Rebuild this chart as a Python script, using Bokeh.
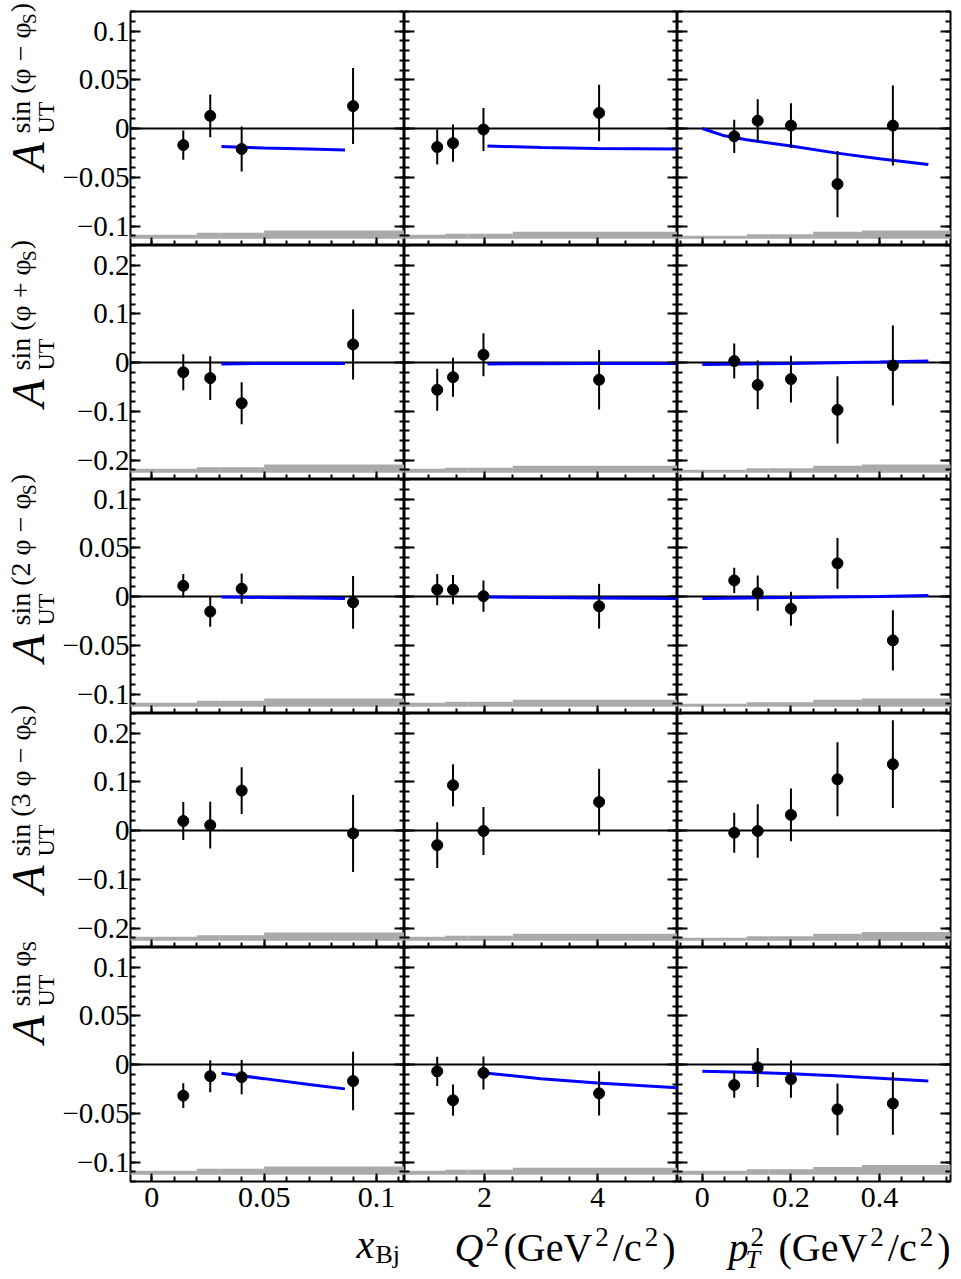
from math import pi
from bokeh.plotting import figure
from bokeh.models import ColumnDataSource, FixedTicker, LinearAxis, Range1d, Span
from bokeh.layouts import gridplot, row, column
from bokeh.core.properties import value
from bokeh.embed import file_html
from bokeh.resources import INLINE

FONT = "Liberation Serif"

# ---------------- data ----------------
# mean kinematic values of the bins
x_bj = [0.014, 0.026, 0.040, 0.0896]
q2 = [1.16, 1.44, 1.98, 4.03]
pt2 = [0.072, 0.125, 0.200, 0.305, 0.430]

# bin edges used for the systematic bands
xbj_edges = [-0.01, 0.02, 0.03, 0.05, 0.115]
q2_edges = [0.5, 1.3, 1.7, 2.5, 5.5]
pt2_edges = [-0.06, 0.10, 0.15, 0.25, 0.36, 0.60]

# row 1: sin(phi - phiS)
a1_xbj = [-0.017, 0.013, -0.021, 0.023]
e1_xbj = [0.015, 0.022, 0.023, 0.039]
a1_q2 = [-0.019, -0.015, -0.001, 0.016]
e1_q2 = [0.018, 0.019, 0.022, 0.029]
a1_pt2 = [-0.008, 0.008, 0.003, -0.057, 0.003]
e1_pt2 = [0.017, 0.022, 0.023, 0.034, 0.041]

# row 2: sin(phi + phiS)
a2_xbj = [-0.020, -0.032, -0.0835, 0.037]
e2_xbj = [0.037, 0.045, 0.043, 0.072]
a2_q2 = [-0.056, -0.030, 0.016, -0.0355]
e2_q2 = [0.043, 0.040, 0.044, 0.061]
a2_pt2 = [0.003, -0.046, -0.034, -0.097, -0.006]
e2_pt2 = [0.036, 0.050, 0.048, 0.069, 0.082]

# row 3: sin(2phi - phiS)
a3_xbj = [0.011, -0.0155, 0.008, -0.006]
e3_xbj = [0.012, 0.0155, 0.0155, 0.027]
a3_q2 = [0.007, 0.007, 0.0003, -0.010]
e3_q2 = [0.016, 0.015, 0.016, 0.023]
a3_pt2 = [0.0165, 0.0035, -0.0125, 0.034, -0.045]
e3_pt2 = [0.013, 0.018, 0.0175, 0.026, 0.031]

# row 4: sin(3phi - phiS)
a4_xbj = [0.0195, 0.011, 0.082, -0.006]
e4_xbj = [0.039, 0.048, 0.048, 0.079]
a4_q2 = [-0.030, 0.093, -0.001, 0.0585]
e4_q2 = [0.047, 0.043, 0.049, 0.068]
a4_pt2 = [-0.0045, -0.001, 0.032, 0.105, 0.136]
e4_pt2 = [0.041, 0.055, 0.054, 0.076, 0.090]

# row 5: sin(phiS)
a5_xbj = [-0.032, -0.012, -0.013, -0.017]
e5_xbj = [0.0127, 0.0164, 0.0176, 0.030]
a5_q2 = [-0.007, -0.0366, -0.0087, -0.0296]
e5_q2 = [0.015, 0.016, 0.017, 0.0226]
a5_pt2 = [-0.021, -0.003, -0.015, -0.046, -0.040]
e5_pt2 = [0.013, 0.020, 0.019, 0.0265, 0.032]

# model curves
cx_xbj = [0.031, 0.05, 0.07, 0.086]
cx_q2 = [2.05, 3.0, 4.0, 5.42]
cx_pt2 = [0.0, 0.05, 0.10, 0.20, 0.30, 0.40, 0.51]
c1_xbj = [-0.0185, -0.020, -0.021, -0.022]
c1_q2 = [-0.018, -0.0195, -0.0205, -0.021]
c1_pt2 = [0.0, -0.0075, -0.0115, -0.018, -0.025, -0.031, -0.037]
c2_xbj = [-0.003, -0.002, -0.002, -0.002]
c2_q2 = [-0.003, -0.0025, -0.002, -0.002]
c2_pt2 = [-0.004, -0.0035, -0.003, -0.002, -0.0005, 0.001, 0.003]
c3_xbj = [-0.0005, -0.001, -0.0015, -0.002]
c3_q2 = [-0.0005, -0.001, -0.0015, -0.002]
c3_pt2 = [-0.002, -0.0018, -0.0015, -0.001, -0.0005, 0.0, 0.001]
c5_xbj = [-0.009, -0.0145, -0.0205, -0.025]
c5_q2 = [-0.009, -0.0145, -0.019, -0.024]
c5_pt2 = [-0.007, -0.0075, -0.008, -0.0095, -0.0115, -0.014, -0.017]

# systematic uncertainty bands (baseline and heights)
band_base = [-0.113, -0.226, -0.113, -0.226, -0.113]
s1_xbj = [0.004, 0.006, 0.006, 0.0085]
s1_q2 = [0.004, 0.005, 0.005, 0.007]
s1_pt2 = [0.003, 0.0045, 0.0045, 0.007, 0.0085]
s2_xbj = [0.008, 0.011, 0.011, 0.017]
s2_q2 = [0.008, 0.010, 0.010, 0.014]
s2_pt2 = [0.006, 0.009, 0.009, 0.014, 0.017]
s3_xbj = [0.004, 0.006, 0.006, 0.0085]
s3_q2 = [0.004, 0.005, 0.005, 0.007]
s3_pt2 = [0.003, 0.0045, 0.0045, 0.007, 0.0085]
s4_xbj = [0.008, 0.011, 0.011, 0.017]
s4_q2 = [0.008, 0.010, 0.010, 0.014]
s4_pt2 = [0.006, 0.009, 0.009, 0.014, 0.018]
s5_xbj = [0.004, 0.006, 0.006, 0.0085]
s5_q2 = [0.004, 0.005, 0.005, 0.007]
s5_pt2 = [0.004, 0.0055, 0.0055, 0.008, 0.010]

# axis ticks and labels
xbj_ticks = [0, 0.05, 0.1]
xbj_tick_labels = ["0", "0.05", "0.1"]
q2_ticks = [2, 4]
q2_tick_labels = ["2", "4"]
pt2_ticks = [0, 0.2, 0.4]
pt2_tick_labels = ["0", "0.2", "0.4"]
ya_ticks = [-0.1, -0.05, 0, 0.05, 0.1]
ya_tick_labels = ["\u22120.1", "\u22120.05", "0", "0.05", "0.1"]
yb_ticks = [-0.2, -0.1, 0, 0.1, 0.2]
yb_tick_labels = ["\u22120.2", "\u22120.1", "0", "0.1", "0.2"]

ytitle_sup = ["sin (\u03c6 \u2212 \u03c6", "sin (\u03c6 + \u03c6", "sin (2 \u03c6 \u2212 \u03c6",
              "sin (3 \u03c6 \u2212 \u03c6", "sin \u03c6"]
ytitle_close = [")", ")", ")", ")", ""]

# ---------------- layout / style ----------------
O = 1                      # reference offset used for the title coordinates
W_T = 59                   # width of the y-title strip
L1 = 69                    # left border for tick labels of first column
FRAME_W = [276, 273, 273]
FRAME_H = 234
TOP = 11
BOT = 41
RIGHT = 2
GRID_H = TOP + 5 * FRAME_H + BOT
TOTAL_W = W_T + L1 + sum(FRAME_W) + RIGHT
XT_H = 52
DROP = 0.34                # observed downward drop of rendered text (in em)

cols = [
    dict(x=x_bj, rng=(-0.0095, 0.1125), ticks=xbj_ticks, labels=xbj_tick_labels,
         minor=[round(-0.01 + 0.01 * i, 4) for i in range(13)], edges=xbj_edges, cx=cx_xbj),
    dict(x=q2, rng=(0.58, 5.42), ticks=q2_ticks, labels=q2_tick_labels,
         minor=[0.5 * i for i in range(1, 11)], edges=q2_edges, cx=cx_q2),
    dict(x=pt2, rng=(-0.056, 0.56), ticks=pt2_ticks, labels=pt2_tick_labels,
         minor=[round(-0.05 + 0.05 * i, 4) for i in range(13)], edges=pt2_edges, cx=cx_pt2),
]
yA = dict(rng=(-0.12, 0.12), ticks=ya_ticks, labels=ya_tick_labels,
          minor=[round(-0.12 + 0.01 * i, 4) for i in range(25)])
yB = dict(rng=(-0.24, 0.24), ticks=yb_ticks, labels=yb_tick_labels,
          minor=[round(-0.24 + 0.02 * i, 4) for i in range(25)])
rows = [
    dict(y=yA, a=[a1_xbj, a1_q2, a1_pt2], e=[e1_xbj, e1_q2, e1_pt2], c=[c1_xbj, c1_q2, c1_pt2],
         s=[s1_xbj, s1_q2, s1_pt2]),
    dict(y=yB, a=[a2_xbj, a2_q2, a2_pt2], e=[e2_xbj, e2_q2, e2_pt2], c=[c2_xbj, c2_q2, c2_pt2],
         s=[s2_xbj, s2_q2, s2_pt2]),
    dict(y=yA, a=[a3_xbj, a3_q2, a3_pt2], e=[e3_xbj, e3_q2, e3_pt2], c=[c3_xbj, c3_q2, c3_pt2],
         s=[s3_xbj, s3_q2, s3_pt2]),
    dict(y=yB, a=[a4_xbj, a4_q2, a4_pt2], e=[e4_xbj, e4_q2, e4_pt2], c=[None, None, None],
         s=[s4_xbj, s4_q2, s4_pt2]),
    dict(y=yA, a=[a5_xbj, a5_q2, a5_pt2], e=[e5_xbj, e5_q2, e5_pt2], c=[c5_xbj, c5_q2, c5_pt2],
         s=[s5_xbj, s5_q2, s5_pt2]),
]

EM = {'s': 0.389, 'i': 0.278, 'n': 0.5, ' ': 0.25, '(': 0.333, ')': 0.333, '\u03c6': 0.55,
      '\u2212': 0.564, '+': 0.564, '2': 0.5, '3': 0.5, 'S': 0.556, 'G': 0.722, 'e': 0.444,
      'V': 0.722, '/': 0.278, 'c': 0.444}


def text_w(t, size):
    return sum(EM.get(ch, 0.5) for ch in t) * size


def style_axis(ax, show, labels, ticks, major_in, minor_in, size=30):
    ax.axis_line_color = None
    ax.major_tick_in = major_in
    ax.major_tick_out = 0
    ax.minor_tick_in = minor_in
    ax.minor_tick_out = 0
    ax.major_tick_line_width = 2
    ax.minor_tick_line_width = 2
    ax.major_tick_line_color = "black"
    ax.minor_tick_line_color = "black"
    if show:
        ax.major_label_overrides = dict(zip(ticks, labels))
        ax.major_label_text_font = FONT
        ax.major_label_text_font_size = f"{size}px"
        ax.major_label_text_color = "black"
    else:
        ax.major_label_text_color = None
        ax.major_label_text_font_size = "0px"
        ax.major_label_standoff = 0


grid = []
for r, rw in enumerate(rows):
    line = []
    for c, cl in enumerate(cols):
        left = L1 if c == 0 else 0
        right = RIGHT if c == 2 else 0
        top = TOP if r == 0 else 0
        bottom = BOT if r == 4 else 0
        p = figure(width=FRAME_W[c] + left + right, height=FRAME_H + top + bottom,
                   x_range=Range1d(*cl["rng"]), y_range=Range1d(*rw["y"]["rng"]),
                   x_axis_location=None, y_axis_location=None,
                   min_border_left=left, min_border_right=right,
                   min_border_top=top, min_border_bottom=bottom,
                   output_backend="svg", toolbar_location=None)
        p.grid.visible = False
        p.outline_line_color = "black"
        p.outline_line_width = 2
        p.background_fill_color = "white"
        p.border_fill_color = "white"

        axb = LinearAxis(ticker=FixedTicker(ticks=cl["ticks"], minor_ticks=cl["minor"]))
        style_axis(axb, r == 4, cl["labels"], cl["ticks"], 8, 5, 30)
        if r == 4:
            axb.major_label_standoff = 6
        p.add_layout(axb, "below")
        axl = LinearAxis(ticker=FixedTicker(ticks=rw["y"]["ticks"], minor_ticks=rw["y"]["minor"]))
        style_axis(axl, c == 0, rw["y"]["labels"], rw["y"]["ticks"], 10, 5, 29)
        if c == 0:
            axl.major_label_standoff = 1
        p.add_layout(axl, "left")
        axr = LinearAxis(ticker=FixedTicker(ticks=rw["y"]["ticks"], minor_ticks=rw["y"]["minor"]))
        style_axis(axr, False, [], [], 10, 5)
        p.add_layout(axr, "right")

        edges = cl["edges"]
        base = band_base[r]
        hs = rw["s"][c]
        p.quad(left=edges[:-1], right=edges[1:], bottom=[base] * len(hs),
               top=[base + h for h in hs], fill_color="#aaaaaa", line_color=None)

        p.add_layout(Span(location=0, dimension="width", line_color="black",
                          line_width=2, level="underlay"))

        if rw["c"][c] is not None:
            p.line(cl["cx"][:len(rw["c"][c])], rw["c"][c], line_color="#0000ff", line_width=3)

        ys = rw["a"][c]
        es = rw["e"][c]
        src = ColumnDataSource(dict(x=cl["x"], y=ys,
                                    lo=[y - e for y, e in zip(ys, es)],
                                    hi=[y + e for y, e in zip(ys, es)]))
        p.segment(x0="x", y0="lo", x1="x", y1="hi", source=src, line_color="black", line_width=2)
        p.scatter("x", "y", source=src, size=11, color="black")
        line.append(p)
    grid.append(line)

gp = gridplot(grid, toolbar_location=None)


def blank(w, h):
    f = figure(width=w, height=h, x_range=Range1d(0, w), y_range=Range1d(0, h),
               x_axis_location=None, y_axis_location=None, min_border=0,
               min_border_left=0, min_border_right=0, min_border_top=0, min_border_bottom=0,
               output_backend="svg", toolbar_location=None)
    f.grid.visible = False
    f.outline_line_color = None
    f.background_fill_color = "white"
    f.border_fill_color = "white"
    return f


def txt(f, x, y, s, size, italic=False, angle=0.0):
    f.text(x=[x], y=[y], text=[s], angle=angle, text_font=value(FONT),
           text_font_size=value(f"{size}px"),
           text_font_style=value("italic" if italic else "normal"),
           text_color="black", text_align=value("left"), text_baseline=value("alphabetic"))


# ---- rotated y titles (page coordinates converted into the strip) ----
yt = blank(W_T, GRID_H)
A_PAGE = [171, 408, 663, 894, 1044]       # y where the "A" starts
A_SIZE, SUP_SIZE, SUB_SIZE, S_SIZE = 46, 28, 24, 19
# wanted baselines (x) of the rotated pieces, corrected for the text drop
XA = 45 - DROP * A_SIZE
XSUP = 31 - DROP * SUP_SIZE
XSUB = 54.5 - DROP * SUB_SIZE
XS = 36 - DROP * S_SIZE


def fy(py):
    return (O + GRID_H) - py


def fx(px):
    return px - O


for r in range(5):
    a0 = A_PAGE[r]
    txt(yt, fx(XA), fy(a0), "A", A_SIZE, italic=True, angle=pi / 2)
    s0 = a0 - 37
    txt(yt, fx(XSUB), fy(s0), "UT", SUB_SIZE, angle=pi / 2)
    sup = ytitle_sup[r]
    txt(yt, fx(XSUP), fy(s0), sup, SUP_SIZE, angle=pi / 2)
    s1 = s0 - text_w(sup, SUP_SIZE)
    txt(yt, fx(XS), fy(s1), "S", S_SIZE, angle=pi / 2)
    if ytitle_close[r]:
        txt(yt, fx(XSUP), fy(s1 - text_w("S", S_SIZE) - 1), ytitle_close[r], SUP_SIZE, angle=pi / 2)

# ---- x titles ----
xt = blank(TOTAL_W, XT_H)
XT_TOP = O + GRID_H


def gx(px):
    return px - O


def gy(py, size):
    # wanted baseline py (page), corrected for the text drop
    return XT_TOP + XT_H - (py - DROP * size)


F, FS, FT = 40, 27, 26
BL, SUPB, SUBB = 1262, 1247, 1269
txt(xt, gx(357), gy(1259, F), "x", F, italic=True)
txt(xt, gx(376), gy(1264, FT), "Bj", FT)


def unit_title(x0):
    x = x0
    txt(xt, gx(x), gy(BL, F), "(GeV", F)
    x += text_w("(GeV", F) + 3
    txt(xt, gx(x), gy(SUPB, FS), "2", FS)
    x += text_w("2", FS) + 4
    txt(xt, gx(x), gy(BL, F), "/c", F)
    x += text_w("/c", F) + 3
    txt(xt, gx(x), gy(SUPB, FS), "2", FS)
    x += text_w("2", FS) + 4
    txt(xt, gx(x), gy(BL, F), ")", F)


txt(xt, gx(455), gy(BL, F), "Q", F, italic=True)
txt(xt, gx(486), gy(SUPB, FS), "2", FS)
unit_title(504)
txt(xt, gx(729), gy(BL, F), "p", F, italic=True)
txt(xt, gx(751), gy(SUPB, FS), "2", FS)
txt(xt, gx(746), gy(SUBB, FT), "T", FT, italic=True)
unit_title(779)

layout = column(row(yt, gp), xt)
open("out.html", "w").write(file_html(layout, INLINE))
